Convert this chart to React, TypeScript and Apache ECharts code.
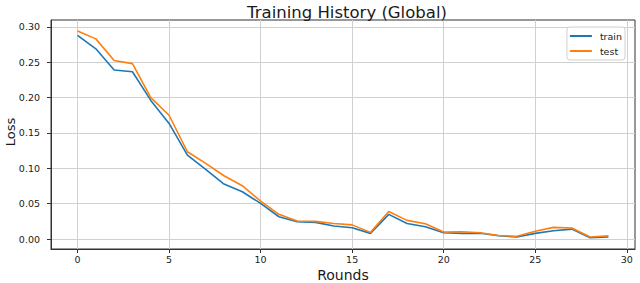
import React, { useEffect, useRef } from "react";
import * as echarts from "echarts";

const rounds: number[] = Array.from({ length: 30 }, (_, i) => i);
const trainLoss: number[] = [
  0.288, 0.269, 0.239, 0.2365, 0.196, 0.1635, 0.1187, 0.0985, 0.0777, 0.0669,
  0.0504, 0.0315, 0.0245, 0.0235, 0.0184, 0.016, 0.008, 0.0349, 0.022, 0.0174,
  0.0089, 0.008, 0.0082, 0.0047, 0.0028, 0.008, 0.0118, 0.014, 0.0019, 0.0028,
];
const testLoss: number[] = [
  0.294, 0.283, 0.2525, 0.248, 0.2, 0.175, 0.1234, 0.107, 0.0895, 0.0754,
  0.0537, 0.0349, 0.0254, 0.025, 0.022, 0.02, 0.0094, 0.039, 0.0264, 0.0216,
  0.0099, 0.0103, 0.0088, 0.005, 0.0038, 0.011, 0.0165, 0.0155, 0.0028, 0.0047,
];
const xTicks: number[] = [0, 5, 10, 15, 20, 25, 30];
const yTicks: number[] = [0, 0.05, 0.1, 0.15, 0.2, 0.25, 0.3];
const xTitle = "Rounds";
const yTitle = "Loss";

const FONT = "DejaVu Sans";

export default function App() {
  const ref = useRef<HTMLDivElement>(null);
  useEffect(() => {
    if (!ref.current) return;
    const chart = echarts.init(ref.current, undefined, { renderer: "svg" });
    chart.setOption({
      animation: false,
      backgroundColor: "#ffffff",
      title: {
        text: "Training History (Global)",
        left: 342,
        textAlign: "center",
        top: -1,
        textStyle: { fontFamily: FONT, fontSize: 16.5, fontWeight: "normal", color: "#1a1a1a" },
      },
      graphic: [
        {
          type: "text",
          x: 343,
          y: 275,
          style: {
            text: xTitle,
            align: "center",
            verticalAlign: "middle",
            font: `14px '${FONT}'`,
            fill: "#1a1a1a",
          },
        },
        {
          type: "text",
          x: 10,
          y: 132,
          rotation: Math.PI / 2,
          style: {
            text: yTitle,
            align: "center",
            verticalAlign: "middle",
            font: `13px '${FONT}'`,
            fill: "#1a1a1a",
          },
        },
      ],
      legend: {
        orient: "vertical",
        right: 15,
        top: 27,
        padding: [4, 3, 4, 3],
        itemGap: 5,
        itemWidth: 22,
        itemHeight: 2,
        icon: "rect",
        borderColor: "#d0d0d0",
        borderWidth: 1,
        borderRadius: 3,
        backgroundColor: "rgba(255,255,255,0.85)",
        textStyle: { fontFamily: FONT, fontSize: 9.5, color: "#1a1a1a", padding: [0, 0, 0, 3] },
        data: ["train", "test"],
      },
      grid: {
        left: 51,
        right: 5,
        top: 20,
        bottom: 34,
        containLabel: false,
        outerBoundsMode: "none",
        show: true,
        borderColor: "#333",
        borderWidth: 1,
        backgroundColor: "transparent",
      },
      xAxis: {
        type: "value",
        min: -1.45,
        max: 30.45,
        axisLine: { show: true, onZero: false, lineStyle: { color: "#333", width: 1 } },
        axisTick: { show: true, length: 4, customValues: xTicks, lineStyle: { color: "#333" } },
        axisLabel: {
          customValues: xTicks,
          fontFamily: FONT,
          fontSize: 9.5,
          color: "#1a1a1a",
          margin: 5,
        },
        splitLine: { show: true, lineStyle: { color: "#d0d0d0", width: 1 } },
      },
      yAxis: {
        type: "value",
        min: -0.0141,
        max: 0.3097,
        axisLine: { show: true, onZero: false, lineStyle: { color: "#333", width: 1 } },
        axisTick: { show: true, length: 4, customValues: yTicks, lineStyle: { color: "#333" } },
        axisLabel: {
          customValues: yTicks,
          fontFamily: FONT,
          fontSize: 9.5,
          color: "#1a1a1a",
          margin: 11,
          formatter: (v: number) => v.toFixed(2),
        },
        splitLine: { show: true, lineStyle: { color: "#d0d0d0", width: 1 } },
      },
      series: [
        {
          name: "train",
          type: "line",
          symbol: "none",
          data: rounds.map((r, i) => [r, trainLoss[i]]),
          lineStyle: { color: "#1f77b4", width: 1.6 },
          itemStyle: { color: "#1f77b4" },
          z: 3,
        },
        {
          name: "test",
          type: "line",
          symbol: "none",
          data: rounds.map((r, i) => [r, testLoss[i]]),
          lineStyle: { color: "#ff7f0e", width: 1.6 },
          itemStyle: { color: "#ff7f0e" },
          z: 4,
        },
      ],
    });
    return () => chart.dispose();
  }, []);
  return (
    <div
      ref={ref}
      style={{ position: "fixed", left: 0, top: 0, width: 640, height: 283 }}
    />
  );
}
